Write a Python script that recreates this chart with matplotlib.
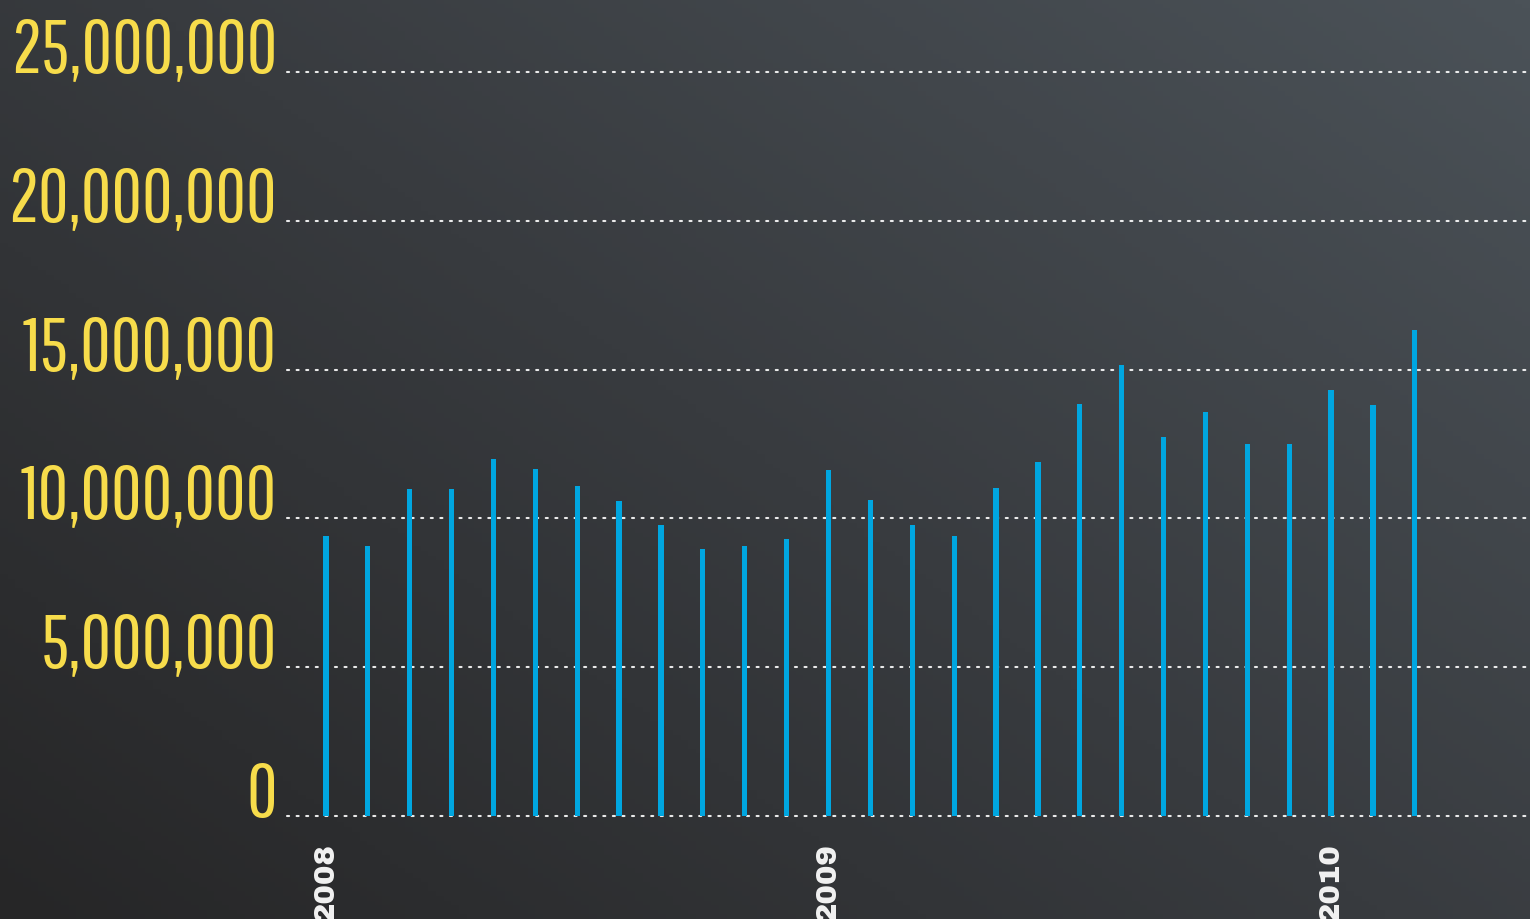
import numpy as np
import matplotlib.pyplot as plt
from matplotlib import font_manager
from matplotlib.colors import LinearSegmentedColormap

# monthly counts, Jan 2008 - Mar 2010
values = [9.40, 9.06, 10.98, 10.98, 11.99, 11.66, 11.09, 10.58, 9.78,
          8.97, 9.07, 9.31, 11.63, 10.62, 9.78, 9.41, 11.02, 11.88,
          13.84, 15.15, 12.74, 13.58, 12.50, 12.50, 14.31, 13.81, 16.33]
values = [v * 1e6 for v in values]
year_labels = {0: "2008", 12: "2009", 24: "2010"}
yticks = [0, 5e6, 10e6, 15e6, 20e6, 25e6]


def pick_font(options):
    for fam, w in options:
        try:
            font_manager.findfont(font_manager.FontProperties(family=fam, weight=w),
                                  fallback_to_default=False)
            return fam, w
        except ValueError:
            continue
    return "DejaVu Sans", 400


num_family, num_weight = pick_font([("Pathway Gothic One", 400), ("Antonio", 200),
                                    ("League Gothic", 400), ("Oswald", 300)])
year_family, year_weight = pick_font([("Archivo Black", 400), ("Liberation Sans", 700)])

fig = plt.figure(figsize=(15.3, 9.2), dpi=100)

# slate background, lighter toward the top right
bg = fig.add_axes([0, 0, 1, 1], zorder=-10)
gx, gy = np.meshgrid(np.linspace(0, 1, 200), np.linspace(0, 1, 200))
shade = 0.55 * gx + 0.45 * gy
cmap = LinearSegmentedColormap.from_list("slate", ["#262627", "#383b3f", "#4b5258"])
bg.imshow(shade, cmap=cmap, origin="lower", aspect="auto", extent=[0, 1, 0, 1])
bg.axis("off")

ax = fig.add_axes([287 / 1530, 103 / 920, 1 - 287 / 1530, 744 / 920])
ax.set_facecolor("none")
x = np.arange(len(values))
ax.bar(x, values, width=0.125, color="#00a6e0", zorder=3)

ax.set_xlim(-0.93, 28.75)
ax.set_ylim(0, 25e6)
for s in ax.spines.values():
    s.set_visible(False)
ax.set_xticks([])
ax.set_yticks([])

ylabels = []
for v in yticks:
    ax.axhline(v, color="white", alpha=0.9, linewidth=1.5,
               linestyle=(0, (1, 3.6)), dash_capstyle="round", zorder=1, clip_on=False)
    t = ax.text(-0.008, v, f"{int(v):,}", transform=ax.get_yaxis_transform(),
                ha="right", va="baseline", color="#f7dc4b", fontsize=50,
                fontweight=num_weight, family=[num_family, "DejaVu Sans"])
    ylabels.append(t)

# size the tick numbers so the widest one fills the left margin
fig.canvas.draw()
r = fig.canvas.get_renderer()
w = ylabels[-1].get_window_extent(r).width
size = 50 * 267 / w
for t in ylabels:
    t.set_fontsize(size)

for i, lab in year_labels.items():
    ax.text(i, -0.035, lab, transform=ax.get_xaxis_transform(), rotation=90,
            ha="center", va="top", color="#f2f2f2", fontsize=21,
            fontweight=year_weight, family=[year_family, "DejaVu Sans"])

fig.savefig("out.png", dpi=100)
